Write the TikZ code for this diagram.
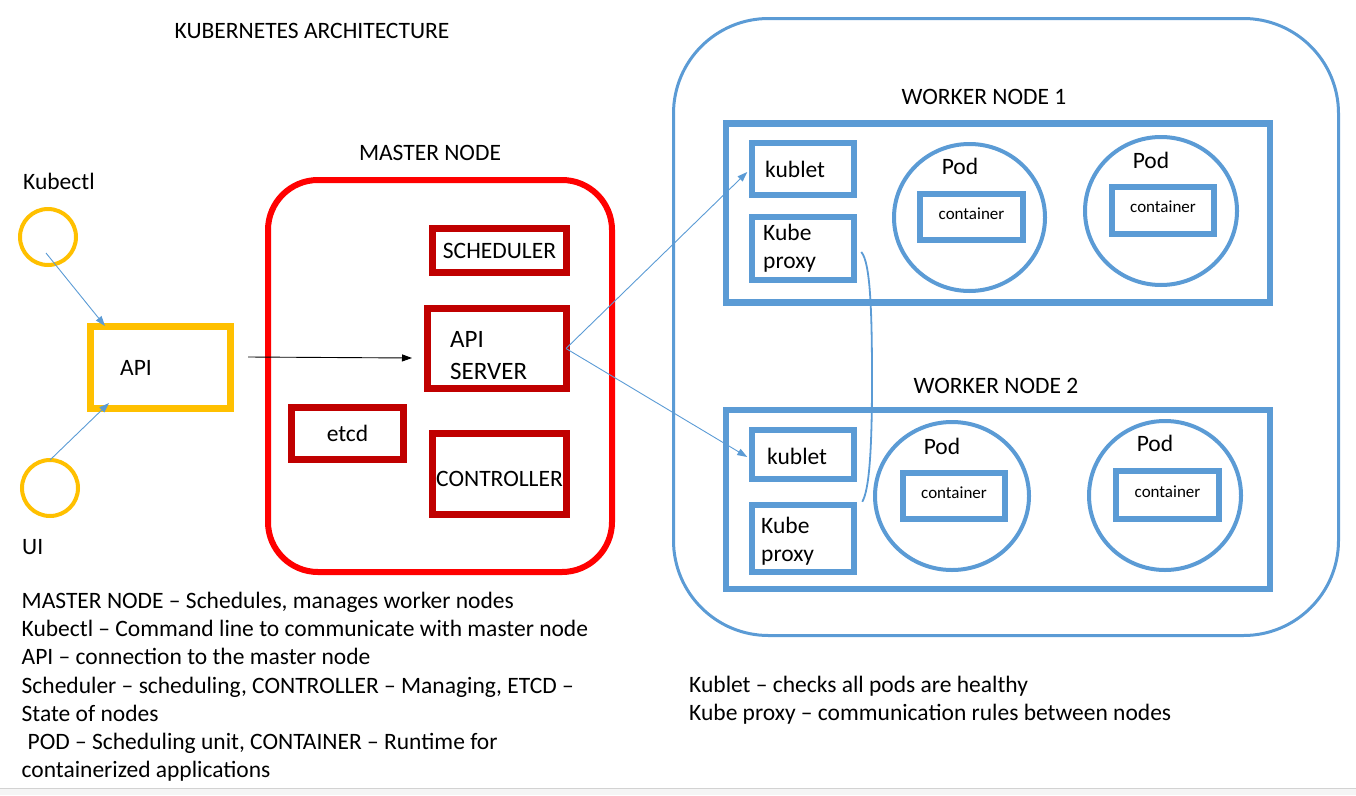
\documentclass[tikz,border=0pt]{standalone}
\usepackage{fontspec}
\setmainfont{Carlito}
\usetikzlibrary{arrows.meta,shapes.geometric}

\definecolor{kyellow}{HTML}{FFC000}
\definecolor{kred}{HTML}{FF0000}
\definecolor{kdarkred}{HTML}{C00000}
\definecolor{kblue}{HTML}{5B9BD5}

\begin{document}
\begin{tikzpicture}[x=1pt, y=-1pt,
  txt/.style={inner sep=0pt, text height=15pt, text depth=0pt, font=\fontsize{23.5}{28}\selectfont},
  small/.style={inner sep=0pt, text height=6.4pt, text depth=2pt, font=\fontsize{17}{20}\selectfont},
  multi/.style={inner sep=0pt, align=left, anchor=north west, font=\fontsize{23.5}{28}\selectfont},
  note/.style={inner sep=0pt, align=left, anchor=north west, font=\fontsize{23.5}{28.2}\selectfont},
  yring/.style={circle, draw=kyellow, line width=4pt, minimum size=56pt, inner sep=0pt},
  rbox/.style={draw=kdarkred, line width=7pt, txt},
  bbox/.style={draw=kblue, line width=6.5pt, inner sep=0pt},
  pod/.style={ellipse, draw=kblue, line width=4pt, inner sep=0pt},
  barrow/.style={kblue, line width=0.9pt, -{Triangle[length=10pt,width=7pt]}}
]

% Page size and the grey strip at the bottom
\useasboundingbox (0,0) rectangle (1356,795);
\fill[gray!8] (0,788) rectangle (1356,795);
\draw[gray!35] (0,788) -- (1356,788);

% Title
\node[txt] (title) at (312,31) {KUBERNETES ARCHITECTURE};

% Clients: Kubectl and UI
\node[txt, anchor=west] (kubectllbl) at (23,182) {Kubectl};
\node[yring] (kubectl) at (48,237) {};
\node[yring] (ui) at (50,488) {};
\node[txt, anchor=west] (uilbl) at (22,547) {UI};

% API box
\node[draw=kyellow, line width=7pt, minimum width=140pt, minimum height=82pt, inner sep=0pt] (api) at (160.5,367) {};
\node[txt, anchor=west] (apitxt) at (120,368) {API};

% Clients to API
\draw[barrow] ([shift={(-2,16)}]kubectl.center) -- ([shift={(18,3.5)}]api.north west);
\draw[barrow] ([shift={(0,-28)}]ui.center) -- ([shift={(22,-8.5)}]api.south west);

% Master node
\node[txt] (masterlbl) at (430,153) {MASTER NODE};
\node[draw=kred, line width=6pt, rounded corners=50pt, minimum width=344pt, minimum height=392pt, inner sep=0pt] (master) at (440,376) {};
\node[rbox, minimum width=134pt, minimum height=44pt] (sched) at (499.5,250.5) {SCHEDULER};
\node[rbox, minimum width=139pt, minimum height=80pt] (apiserver) at (497,348.5) {};
\node[multi, font=\fontsize{25}{32}\selectfont] (apiservertxt) at (450,331) {API\\SERVER};
\node[rbox, minimum width=112pt, minimum height=52pt] (etcd) at (347.5,433.5) {etcd};
\node[rbox, minimum width=134pt, minimum height=81pt, text height=25pt] (ctrl) at (499.5,474) {CONTROLLER};

% API to API server
\draw[-{Triangle[length=10pt,width=7pt]}, line width=0.9pt] ([shift={(14,-10)}]api.east) -- ([shift={(-12,9.5)}]apiserver.west);

% Worker nodes frame
\node[draw=kblue, line width=3pt, rounded corners=95pt, minimum width=665pt, minimum height=617pt, inner sep=0pt] (workers) at (1006,327) {};

% Worker node 1
\node[txt] (wn1lbl) at (984,97) {WORKER NODE 1};
\node[bbox, minimum width=544pt, minimum height=179pt] (wn1) at (998,213) {};
\node[bbox, minimum width=102pt, minimum height=52pt] (kublet1) at (803,169) {};
\node[txt, anchor=west] (kublet1txt) at (765,170) {kublet};
\node[bbox, minimum width=102pt, minimum height=63pt] (kp1) at (803,248.5) {};
\node[multi] (kp1txt) at (763,224) {Kube\\proxy};
\node[pod, minimum width=151pt, minimum height=147pt] (pod1) at (969.5,217.5) {};
\node[txt] (pod1lbl) at (960,167) {Pod};
\node[bbox, line width=6pt, minimum width=103pt, minimum height=46pt, small] (cont1) at (971.5,217) {container};
\node[pod, minimum width=152pt, minimum height=148pt] (pod2) at (1161,211) {};
\node[txt] (pod2lbl) at (1151,161) {Pod};
\node[bbox, line width=6pt, minimum width=102pt, minimum height=47pt, small] (cont2) at (1163,210.5) {container};

% Worker node 2
\node[txt] (wn2lbl) at (996,386) {WORKER NODE 2};
\node[bbox, minimum width=544pt, minimum height=179pt] (wn2) at (998,499.5) {};
\node[bbox, minimum width=102pt, minimum height=49pt] (kublet2) at (803,454.5) {};
\node[txt, anchor=west] (kublet2txt) at (767,457) {kublet};
\node[bbox, minimum width=102pt, minimum height=67pt] (kp2) at (803,538.5) {};
\node[multi] (kp2txt) at (761,517) {Kube\\proxy};
\node[pod, minimum width=154pt, minimum height=148pt] (pod3) at (952,496) {};
\node[txt] (pod3lbl) at (942,447) {Pod};
\node[bbox, line width=6pt, minimum width=102pt, minimum height=46pt, small] (cont3) at (954,496) {container};
\node[pod, minimum width=152pt, minimum height=149pt] (pod4) at (1165,495.5) {};
\node[txt] (pod4lbl) at (1155,444) {Pod};
\node[bbox, line width=6pt, minimum width=103pt, minimum height=48pt, small] (cont4) at (1167.5,495) {container};

% API server to the kublets
\draw[barrow] ([shift={(-4,0)}]apiserver.east) -- ([shift={(-1.5,3)}]kublet1.west);
\draw[barrow] ([shift={(-4,0)}]apiserver.east) -- ([shift={(-1.5,2.5)}]kublet2.west);

% Kube proxy to kube proxy
\coordinate (kpmid) at (872,380);
\draw[kblue, line width=1.8pt] ([shift={(4,3.5)}]kp1.east) .. controls +(9,10) and +(0,-70) .. (kpmid) .. controls +(0,70) and +(7,-12) .. ([shift={(5,0)}]kp2.north east);

% Notes
\node[note] (notesleft) at (21.5,592) {MASTER NODE – Schedules, manages worker nodes\\
Kubectl – Command line to communicate with master node\\
API – connection to the master node\\
Scheduler – scheduling, CONTROLLER – Managing, ETCD –\\
State of nodes\\
\hspace*{6pt}POD – Scheduling unit, CONTAINER – Runtime for\\
containerized applications};
\node[note] (notesright) at (689,676) {Kublet – checks all pods are healthy\\
Kube proxy – communication rules between nodes};

\end{tikzpicture}
\end{document}
